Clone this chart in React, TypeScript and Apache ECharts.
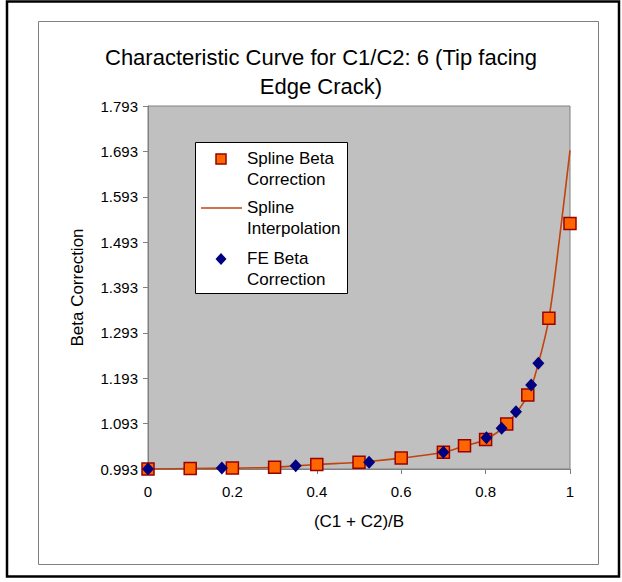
import React, { useEffect, useRef } from "react";
import * as echarts from "echarts";

const titleText = "Characteristic Curve for C1/C2: 6 (Tip facing\nEdge Crack)";
const xAxisName = "(C1 + C2)/B";
const yAxisName = "Beta Correction";

const splineX = [0, 0.1, 0.2, 0.3, 0.4, 0.5, 0.6, 0.7, 0.75, 0.8, 0.85, 0.9, 0.95, 1.0];
const splineY = [0.993, 0.994, 0.995, 0.997, 1.003, 1.008, 1.017, 1.03, 1.044, 1.058, 1.092, 1.156, 1.325, 1.534];

const curveX = [0, 0.1, 0.2, 0.3, 0.4, 0.5, 0.6, 0.7, 0.75, 0.8, 0.85, 0.9, 0.925, 0.95, 0.975, 1.0];
const curveY = [0.993, 0.994, 0.995, 0.997, 1.003, 1.008, 1.017, 1.03, 1.044, 1.058, 1.092, 1.156, 1.226, 1.325, 1.5, 1.695];

const feX = [0, 0.175, 0.35, 0.524, 0.7, 0.802, 0.838, 0.872, 0.908, 0.925];
const feY = [0.993, 0.995, 1.0, 1.008, 1.03, 1.062, 1.083, 1.119, 1.178, 1.226];

const seriesNames = ["Spline Beta\nCorrection", "Spline\nInterpolation", "FE Beta\nCorrection"];

const FONT = "'Liberation Sans', Arial, Helvetica, sans-serif";
const SQUARE_FILL = "#ff6600";
const SQUARE_BORDER = "#990000";
const LINE_COLOR = "#c4420c";
const DIAMOND = "#000080";

export default function App() {
  const ref = useRef<HTMLDivElement>(null);

  useEffect(() => {
    document.body.style.margin = "0";
    const chart = echarts.init(ref.current!, null, { renderer: "svg" });
    const zip = (xs: number[], ys: number[]) => xs.map((x, i) => [x, ys[i]]);

    const legendX = 195;
    const legendY = 142;
    const option: any = {
      animation: false,
      backgroundColor: "#ffffff",
      textStyle: { fontFamily: FONT },
      title: {
        text: titleText,
        left: 321,
        top: 43,
        padding: 0,
        textAlign: "center",
        textStyle: { fontFamily: FONT, fontSize: 22, fontWeight: "normal", color: "#000", lineHeight: 29 },
      },
      grid: {
        left: 148,
        top: 106,
        right: 52,
        bottom: 113,
        show: true,
        backgroundColor: "#c0c0c0",
        borderColor: "#808080",
        borderWidth: 1,
      },
      xAxis: {
        type: "value",
        min: 0,
        max: 1,
        interval: 0.2,
        name: xAxisName,
        nameLocation: "middle",
        nameGap: 44,
        nameTextStyle: { fontFamily: FONT, fontSize: 17, color: "#000" },
        axisLine: { show: true, lineStyle: { color: "#808080", width: 1 } },
        axisTick: { show: true, length: 5, lineStyle: { color: "#808080" } },
        axisLabel: {
          color: "#000",
          fontSize: 15,
          fontFamily: FONT,
          margin: 15,
          formatter: (v: number) => String(Number(v.toFixed(1))),
        },
        splitLine: { show: false },
      },
      yAxis: {
        type: "value",
        min: 0.993,
        max: 1.793,
        interval: 0.1,
        name: yAxisName,
        nameLocation: "middle",
        nameGap: 62,
        nameRotate: 90,
        nameTextStyle: { fontFamily: FONT, fontSize: 17, color: "#000" },
        axisLine: { show: true, lineStyle: { color: "#808080", width: 1 } },
        axisTick: { show: true, length: 5, lineStyle: { color: "#808080" } },
        axisLabel: {
          color: "#000",
          fontSize: 15,
          fontFamily: FONT,
          margin: 10,
          formatter: (v: number) => v.toFixed(3),
        },
        splitLine: { show: false },
      },
      series: [
        {
          name: seriesNames[1],
          type: "line",
          data: zip(curveX, curveY),
          smooth: 0.35,
          showSymbol: false,
          symbol: "none",
          lineStyle: { color: LINE_COLOR, width: 1.6 },
          z: 2,
        },
        {
          name: seriesNames[0],
          type: "scatter",
          data: zip(splineX, splineY),
          symbol: "rect",
          symbolSize: 12,
          itemStyle: { color: SQUARE_FILL, borderColor: SQUARE_BORDER, borderWidth: 1.5, opacity: 1 },
          z: 3,
        },
        {
          name: seriesNames[2],
          type: "scatter",
          data: zip(feX, feY),
          symbol: "diamond",
          symbolSize: [12, 13],
          itemStyle: { color: DIAMOND, opacity: 1 },
          z: 4,
        },
      ],
      graphic: [
        {
          type: "rect",
          shape: { x: 7, y: 1.5, width: 612, height: 575 },
          style: { fill: "none", stroke: "#000", lineWidth: 2.5 },
          silent: true,
        },
        {
          type: "rect",
          shape: { x: 38.5, y: 21.5, width: 560, height: 543 },
          style: { fill: "none", stroke: "#808080", lineWidth: 1 },
          silent: true,
        },
        {
          type: "group",
          x: legendX,
          y: legendY,
          z: 100,
          children: [
            {
              type: "rect",
              shape: { x: 0.5, y: 0.5, width: 152, height: 151 },
              style: { fill: "#ffffff", stroke: "#000", lineWidth: 1 },
            },
            {
              type: "rect",
              shape: { x: 21, y: 12, width: 10, height: 10 },
              style: { fill: SQUARE_FILL, stroke: SQUARE_BORDER, lineWidth: 1.5 },
            },
            {
              type: "text",
              x: 52,
              y: 6,
              style: { text: seriesNames[0], fontFamily: FONT, fontSize: 17, lineHeight: 21, fill: "#000", verticalAlign: "top" },
            },
            {
              type: "line",
              shape: { x1: 6, y1: 66, x2: 47, y2: 66 },
              style: { stroke: LINE_COLOR, lineWidth: 1.6 },
            },
            {
              type: "text",
              x: 52,
              y: 55,
              style: { text: seriesNames[1], fontFamily: FONT, fontSize: 17, lineHeight: 21, fill: "#000", verticalAlign: "top" },
            },
            {
              type: "polygon",
              shape: { points: [[26, 111], [31.5, 117], [26, 123], [20.5, 117]] },
              style: { fill: DIAMOND },
            },
            {
              type: "text",
              x: 52,
              y: 106,
              style: { text: seriesNames[2], fontFamily: FONT, fontSize: 17, lineHeight: 21, fill: "#000", verticalAlign: "top" },
            },
          ],
        },
      ],
    };
    chart.setOption(option);
    return () => chart.dispose();
  }, []);

  return <div ref={ref} style={{ width: 622, height: 582 }} />;
}
